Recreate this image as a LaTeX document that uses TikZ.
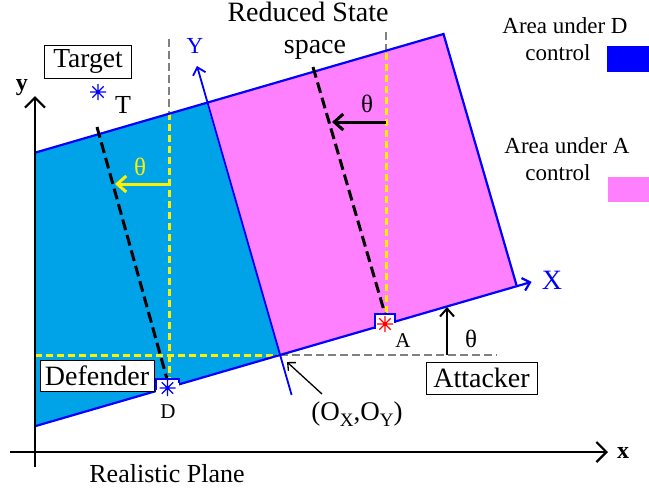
\documentclass[tikz,border=0pt]{standalone}
\usepackage{fontspec}
\setmainfont{Liberation Serif}
\usetikzlibrary{arrows.meta,calc}
\definecolor{areaD}{RGB}{0,162,232}
\definecolor{areaA}{RGB}{255,128,255}
\definecolor{edgeB}{RGB}{0,0,255}
\definecolor{dashY}{RGB}{255,240,0}
\definecolor{dashG}{RGB}{128,128,128}
\definecolor{legD}{RGB}{0,0,255}
\newcommand\lowsub[1]{\raisebox{-6pt}{\fontsize{19pt}{19pt}\selectfont #1}}
\begin{document}
\begin{tikzpicture}[x=1pt,y=-1pt,
  fs/.style={font=\fontsize{#1pt}{#1pt}\selectfont},
  lbl/.style={anchor=base,inner sep=0pt},
  boxlbl/.style={draw=black,line width=1pt,fill=white,inner sep=0pt,minimum height=#1},
  ydash/.style={dashY,line width=3pt,dash pattern=on 7pt off 4pt},
  gdash/.style={dashG,line width=2.8pt,dash pattern=on 8pt off 4pt},
  kdash/.style={black,line width=3pt,dash pattern=on 11pt off 5pt},
  edge/.style={edgeB,line width=2.2pt},
  bigbarb/.style={-{Straight Barb[length=10pt,width=20pt]}},
  midbarb/.style={-{Straight Barb[length=9pt,width=16pt]}},
  astmark/.pic={\draw[pic actions] (-8,0)--(8,0) (0,-8)--(0,8) (-5.7,-5.7)--(5.7,5.7) (-5.7,5.7)--(5.7,-5.7);}
]
\useasboundingbox (0,0) rectangle (649,490);
% key coordinates
\coordinate (O) at (280,355);
\coordinate (TLx) at (35,152.7);
\coordinate (TY) at (206.7,102.8);
\coordinate (TR) at (443.5,34);
\coordinate (BR) at (516.8,286.2);
\coordinate (BLx) at (35,426.2);
\coordinate (Xtip) at (531.6,281.9);
\coordinate (Ybot) at (291.6,394.9);
\coordinate (Ytip) at (197,66);
\coordinate (D) at (167,386.5);
\coordinate (A) at (385,324);
% fills
\fill[areaD] (TLx) -- (TY) -- (O) -- (BLx) -- cycle;
\fill[areaA] (TY) -- (TR) -- (BR) -- (O) -- cycle;
% dashed guides
\draw[gdash] (169,39) -- (169,113);
\draw[ydash] (169,113) -- (169,379);
\draw[gdash] (386,32) -- (386,53);
\draw[ydash] (386,53) -- (386,314);
\draw[ydash] (35,355) -- (O);
\draw[gdash] (O) -- (497,355);
% rotated frame edges
\draw[edge] (TLx) -- (TR) -- (BR);
\draw[edge] (BLx) -- (O);
\draw[edge,-{Straight Barb[length=7pt,width=13pt]}] (O) -- (Xtip);
\draw[edgeB,line width=1.8pt,-{Straight Barb[length=7pt,width=13pt]}] (Ybot) -- (Ytip);
% black dashed lines
\draw[kdash] (97,127) -- (167,379);
\draw[kdash] (313,67) -- (385,314);
% marker boxes
\fill[white] (156,379) rectangle (179,395);
\draw[edgeB,line width=1.2pt] (156,389.6) -- (156,379) -- (179,379) -- (179,383.2);
\fill[white] (375,314) rectangle (395,331);
\draw[edgeB,line width=1.2pt] (375,328.5) -- (375,314) -- (395,314) -- (395,322.9);
\pic[edgeB,line width=1.3pt] at (167.5,388) {astmark};
\pic[red,line width=1.3pt] at (385,324) {astmark};
\pic[edgeB,line width=1.3pt] at (98,92) {astmark};
% main axes
\draw[black,line width=2.2pt,bigbarb] (35,467) -- (35,96);
\draw[black,line width=2.2pt,bigbarb] (10,452) -- (608,452);
% theta arrows
\draw[dashY,line width=3pt,midbarb] (169,184) -- (115,184);
\draw[black,line width=3pt,midbarb] (386,122) -- (332,122);
\draw[black,line width=2pt,-{Straight Barb[length=8pt,width=14pt]}] (447,355) -- (447,307);
% labels
\node[lbl,fs=28] (rs) at (308,21.5) {Reduced State};
\node[lbl,fs=28] (sp) at (315,53) {space};
\node[boxlbl=33pt,fs=27.5,minimum width=87pt] (tg) at (88,61.5) {Target};
\node[boxlbl=31pt,fs=28,minimum width=114pt] (df) at (97,375.5) {Defender};
\node[boxlbl=32pt,fs=28,minimum width=111pt] (at) at (481.5,378) {Attacker};
\node[lbl,fs=26] (tl) at (123,113) {T};
\node[lbl,fs=21] (dl) at (168,418) {D};
\node[lbl,fs=21] (al) at (403,347) {A};
\node[lbl,fs=23,text=edgeB] (Yl) at (195,53) {Y};
\node[lbl,fs=28,text=edgeB] (Xl) at (552,289) {X};
\node[lbl,font=\fontsize{24pt}{24pt}\selectfont\bfseries] (yl) at (22,90) {y};
\node[lbl,font=\fontsize{24pt}{24pt}\selectfont\bfseries] (xl) at (623,458) {x};
\node[lbl,fs=25,text=dashY] (th1) at (140,175) {θ};
\node[lbl,fs=25] (th2) at (367,112) {θ};
\node[lbl,fs=25] (th3) at (471,347) {θ};
\node[lbl,fs=27] (oxy) at (357,420) {(O\lowsub{X},O\lowsub{Y})};
\coordinate (oxs) at (322,394);
\draw[black,line width=1.3pt,-{Straight Barb[length=6pt,width=11pt]}] (oxs) -- (287,362);
\node[lbl,fs=26] (rp) at (167,482) {Realistic Plane};
% legend
\node[lbl,fs=23] (lg1) at (565,33) {Area under D};
\node[lbl,fs=23] (lg2) at (558,60) {control};
\node[lbl,fs=23] (lg3) at (567,153) {Area under A};
\node[lbl,fs=23] (lg4) at (558,180) {control};
\fill[legD] (607,46) rectangle (649,72);
\fill[areaA] (608,177) rectangle (649,202);
\end{tikzpicture}
\end{document}
